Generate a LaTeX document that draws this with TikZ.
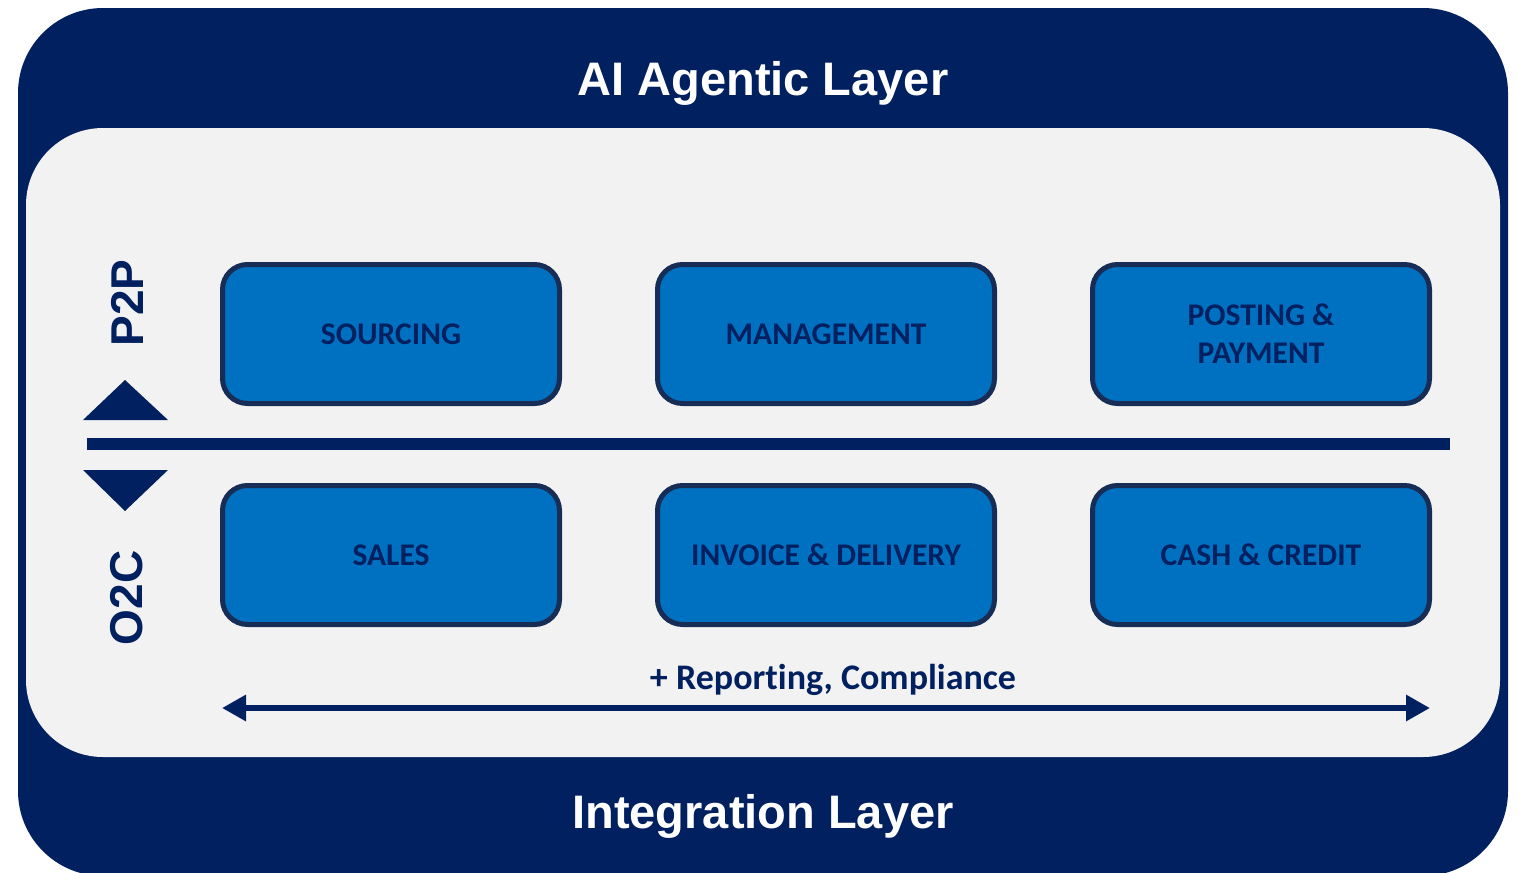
\documentclass[tikz,border=0pt]{standalone}
\usepackage{fontspec}
\setmainfont{Carlito}[Ligatures=NoCommon]
\newfontfamily\layerfont{Liberation Sans}
\usepackage{tikz}
\usetikzlibrary{arrows.meta,positioning,calc}

\definecolor{navy}{HTML}{002060}
\definecolor{panel}{HTML}{F2F2F2}
\definecolor{stepblue}{HTML}{0070C0}
\definecolor{stepline}{HTML}{172D55}

\begin{document}
\begin{tikzpicture}[
x=1pt, y=-1pt,
layer-label/.style = {text=white, anchor=base, font=\layerfont\bfseries\fontsize{47}{56}\selectfont},
flow-label/.style = {text=navy, rotate=90, font=\layerfont\bfseries\fontsize{46}{55}\selectfont},
step-node/.style = {rectangle, rounded corners=25pt, draw=stepline, line width=5pt, fill=stepblue,
  minimum width=337pt, minimum height=139pt, align=center, text=navy,
  font=\bfseries\fontsize{31.5}{38}\selectfont}
]
\useasboundingbox (0,0) rectangle (1519,873);
\clip (0,0) rectangle (1519,873);

% frame
\fill[navy, rounded corners=85pt] (18,8) rectangle (1508,876);
\fill[panel, rounded corners=77pt] (26,128) rectangle (1500,757);

% layers
\node [layer-label] (agentic) at (763,95) {AI Agentic Layer};
\node [layer-label] (integration) at (763,828) {Integration Layer};

% process steps
\node [step-node] (sourcing) at (391,334) {SOURCING};
\node [step-node] (management) at (826,334) {MANAGEMENT};
\node [step-node] (posting) at (1261,334) {POSTING \&\\PAYMENT};
\node [step-node] (sales) at (391,555) {SALES};
\node [step-node] (invoice) at (826,555) {INVOICE \& DELIVERY};
\node [step-node] (cash) at (1261,555) {CASH \& CREDIT};

% flows
\node [flow-label] (p2p) at (127,303) {P2P};
\node [flow-label] (o2c) at (127,598) {O2C};
\fill[navy] (83,420) -- (125,380) -- (168,420) -- cycle;
\fill[navy] (83,470) -- (125,511) -- (168,470) -- cycle;

% divider
\coordinate (divL) at (87,444);
\coordinate (divR) at (1450,444);
\draw[navy, line width=12pt] (divL) -- (divR);

% reporting
\coordinate (repL) at (222,708);
\coordinate (repR) at (1430,708);
\draw[navy, line width=6pt, {Triangle[length=24pt,width=25pt]}-{Triangle[length=24pt,width=25pt]}] (repL) -- (repR);
\node [anchor=base, text=navy, font=\bfseries\fontsize{36}{42}\selectfont] (reporting) at (833,689) {+ Reporting, Compliance};

\end{tikzpicture}
\end{document}
